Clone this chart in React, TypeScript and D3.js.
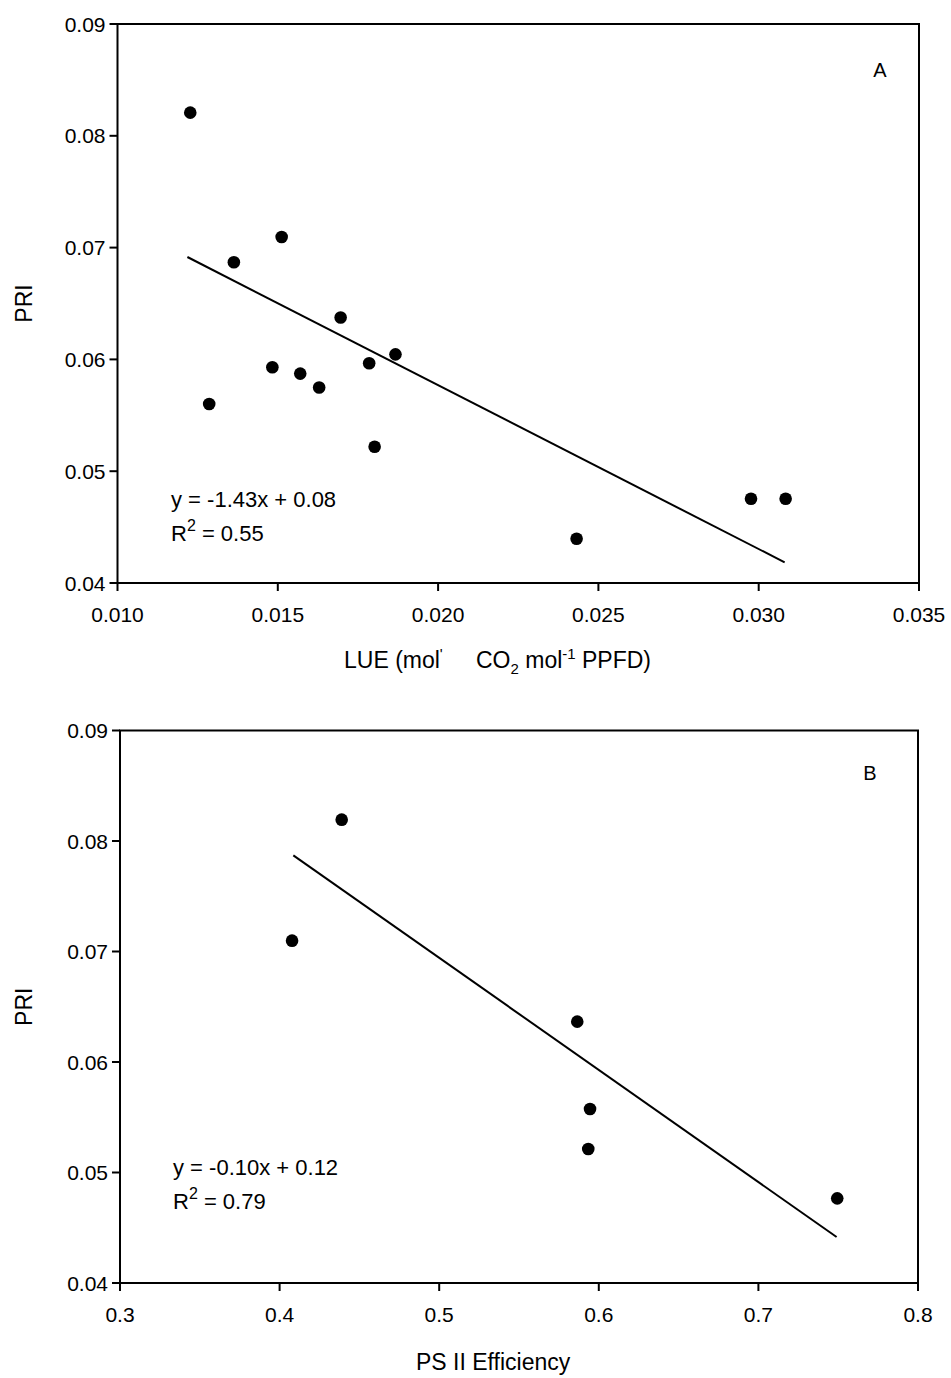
import React from "react";
import * as d3 from "d3";

// Panel A: LUE vs PRI
const lueA = [0.01227, 0.01286, 0.01363, 0.01483, 0.01512, 0.0157, 0.01629, 0.01696, 0.01785, 0.01802, 0.01867, 0.02432, 0.02976, 0.03084];
const priA = [0.08207, 0.05601, 0.06869, 0.0593, 0.07095, 0.05873, 0.05749, 0.06375, 0.05965, 0.05219, 0.06045, 0.04396, 0.04754, 0.04754];
const fitAx = [0.01218, 0.03081];
const fitAy = [0.06916, 0.04185];

// Panel B: PS II efficiency vs PRI
const psB = [0.4389, 0.4078, 0.5865, 0.5945, 0.5934, 0.7494];
const priB = [0.08193, 0.07098, 0.06365, 0.05575, 0.05213, 0.04766];
const fitBx = [0.4086, 0.749];
const fitBy = [0.0787, 0.04416];

const yTicks = [0.04, 0.05, 0.06, 0.07, 0.08, 0.09];
const xTicksA = [0.01, 0.015, 0.02, 0.025, 0.03, 0.035];
const xTicksB = [0.3, 0.4, 0.5, 0.6, 0.7, 0.8];

const FONT = "'Liberation Sans', Arial, Helvetica, sans-serif";

type PanelProps = {
  xs: number[];
  ys: number[];
  fx: number[];
  fy: number[];
  xTicks: number[];
  xFmt: (v: number) => string;
  xRange: [number, number];
  yRange: [number, number];
  letter: string;
  letterPos: [number, number];
  eq: string;
  r2: string;
  eqPos: [number, number];
  xTitle: React.ReactNode;
  xTitleX: number;
  xTitleY: number;
};

function Panel(p: PanelProps) {
  const x = d3.scaleLinear().domain([p.xTicks[0], p.xTicks[p.xTicks.length - 1]]).range(p.xRange);
  const y = d3.scaleLinear().domain([0.04, 0.09]).range(p.yRange);
  const yFmt = d3.format(".2f");
  const line = d3
    .line<number>()
    .x((_, i) => x(p.fx[i]))
    .y((_, i) => y(p.fy[i]));
  const [x0, x1] = p.xRange;
  const [yb, yt] = p.yRange;
  const tick = 8;
  return (
    <g fontFamily={FONT} fill="#000">
      <rect x={x0} y={yt} width={x1 - x0} height={yb - yt} fill="none" stroke="#000" strokeWidth={2} />
      {yTicks.map((t) => (
        <g key={"y" + t}>
          <line x1={x0 - tick} x2={x0} y1={y(t)} y2={y(t)} stroke="#000" strokeWidth={2} />
          <text x={x0 - 12} y={y(t)} dy="0.36em" textAnchor="end" fontSize={21}>
            {yFmt(t)}
          </text>
        </g>
      ))}
      {p.xTicks.map((t) => (
        <g key={"x" + t}>
          <line x1={x(t)} x2={x(t)} y1={yb} y2={yb + tick} stroke="#000" strokeWidth={2} />
          <text x={x(t)} y={yb + 39} textAnchor="middle" fontSize={21}>
            {p.xFmt(t)}
          </text>
        </g>
      ))}
      <path d={line(p.fx) || ""} fill="none" stroke="#000" strokeWidth={2} />
      {p.xs.map((v, i) => (
        <circle key={i} cx={x(v)} cy={y(p.ys[i])} r={6.3} fill="#000" />
      ))}
      <text x={p.letterPos[0]} y={p.letterPos[1]} fontSize={20} textAnchor="middle">
        {p.letter}
      </text>
      <text x={p.eqPos[0]} y={p.eqPos[1]} fontSize={22}>
        {p.eq}
      </text>
      <text x={p.eqPos[0]} y={p.eqPos[1] + 34} fontSize={22}>
        R<tspan dy={-10} fontSize={16}>2</tspan>
        <tspan dy={10}>{" = " + p.r2}</tspan>
      </text>
      <text
        transform={`translate(${32},${(yb + yt) / 2}) rotate(-90)`}
        textAnchor="middle"
        fontSize={23}
      >
        PRI
      </text>
      <text x={p.xTitleX} y={p.xTitleY} fontSize={23}>
        {p.xTitle}
      </text>
    </g>
  );
}

export default function App() {
  return (
    <svg
      width={951}
      height={1378}
      style={{ position: "absolute", left: 0, top: 0, background: "#fff" }}
    >
      <rect x={0} y={0} width={951} height={1378} fill="#fff" />
      <Panel
        xs={lueA}
        ys={priA}
        fx={fitAx}
        fy={fitAy}
        xTicks={xTicksA}
        xFmt={d3.format(".3f")}
        xRange={[117.5, 919]}
        yRange={[583, 24]}
        letter="A"
        letterPos={[880, 77]}
        eq="y = -1.43x + 0.08"
        r2="0.55"
        eqPos={[171, 507]}
        xTitle={
          <>
            LUE (mol<tspan dy={-9} fontSize={15}>'</tspan>
            <tspan x={476} dy={9}>CO</tspan>
            <tspan dy={6} fontSize={15}>2</tspan>
            <tspan dy={-6}>{" mol"}</tspan>
            <tspan dy={-9} fontSize={15}>-1</tspan>
            <tspan dy={9}>{" PPFD)"}</tspan>
          </>
        }
        xTitleX={344}
        xTitleY={668}
      />
      <Panel
        xs={psB}
        ys={priB}
        fx={fitBx}
        fy={fitBy}
        xTicks={xTicksB}
        xFmt={d3.format(".1f")}
        xRange={[120, 918]}
        yRange={[1283, 730.5]}
        letter="B"
        letterPos={[870, 780]}
        eq="y = -0.10x + 0.12"
        r2="0.79"
        eqPos={[173, 1175]}
        xTitle="PS II Efficiency"
        xTitleX={416}
        xTitleY={1370}
      />
    </svg>
  );
}
